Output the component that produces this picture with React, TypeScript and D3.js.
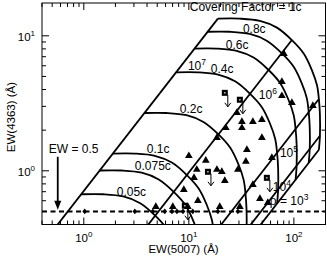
import React, { useEffect, useRef } from "react";
import * as d3 from "d3";

// c = 1 model curve (EW(5007), EW(4363)) going from n = 10^7 down to 10^3 cm^-3
const arcX = [18.9, 30.6, 47.5, 68.9, 95.7, 124, 148, 166, 173, 177, 177, 173];
const arcY = [13.4, 13.4, 12.9, 11.5, 9.3, 7.4, 5.6, 4.3, 3.4, 2.6, 1.82, 1.43];
// which arc points are the density grid lines: 10^7, 10^6, 10^5, 10^4, 10^3
const densityIdx = [0, 4, 8, 10, 11];
const coverings = [1, 0.8, 0.6, 0.4, 0.2, 0.1, 0.075, 0.05];

// measured objects (triangles)
const triX = [76.9, 80.3, 76.9, 95.7, 151.7, 28.7, 32.0, 32.0, 40.7, 49.6, 22.5, 49.6, 18.5, 35.7, 61.7, 34.9, 29.3, 40.7,
  10.0, 14.5, 11.9, 18.5, 20.6, 22.0, 11.2, 8.96, 47.5, 56.5, 4.85, 7.04, 9.78, 12.2, 19.7, 30.6];
const triY = [4.56, 7.36, 3.59, 3.19, 3.03, 2.69, 2.31, 2.08, 2.31, 2.39, 2.08, 1.76, 1.76, 1.43, 1.25, 1.17, 1.02, 0.788,
  1.29, 1.19, 1.02, 1.02, 0.983, 0.843, 0.887, 0.723, 0.62, 0.579, 0.541, 0.541, 0.541, 0.6, 0.541, 0.541];

// upper limits (squares with arrows)
const limX = [22.0, 30.6, 15.2, 55.3, 9.16];
const limY = [3.78, 3.36, 0.983, 0.887, 0.551];

// small points sitting on the EW = 0.5 line
const dotX = [1.02, 3.06, 4.54, 5.9, 6.9, 7.7, 8.8, 10.9, 18.9, 29.3];
const ewLimit = 0.5;

const xMajors = [1, 10, 100];
const yMajors = [1, 10];

export default function App() {
  const svgRef = useRef<SVGSVGElement>(null);

  useEffect(() => {
    const svg = d3.select(svgRef.current);
    svg.selectAll("*").remove();

    const W = 327, H = 256;
    const margin = { top: 3, right: 1.5, bottom: 31.5, left: 42 };
    const width = W - margin.left - margin.right;
    const height = H - margin.top - margin.bottom;
    const font = "Liberation Sans, Arial, Helvetica, sans-serif";

    const x = d3.scaleLog().domain([0.4, 200]).range([0, width]);
    const y = d3.scaleLog().domain([0.4, 17.5]).range([height, 0]);

    svg.append("defs").append("clipPath").attr("id", "plotclip")
      .append("rect").attr("width", width).attr("height", height);

    const g = svg.append("g").attr("transform", `translate(${margin.left},${margin.top})`);
    const plot = g.append("g").attr("clip-path", "url(#plotclip)");

    // covering factor arcs
    const line = d3.line<number>()
      .x((d) => x(d[0]))
      .y((d) => y(d[1]))
      .curve(d3.curveCatmullRom);
    const base = arcX.map((v, i) => [v, arcY[i]]);
    coverings.forEach((c) => {
      plot.append("path")
        .datum(base.map((p) => [p[0] * c, p[1] * c]))
        .attr("fill", "none")
        .attr("stroke", "black")
        .attr("stroke-width", 1.8)
        .attr("d", line as any);
    });

    // density lines (EW scales with covering factor)
    densityIdx.forEach((i) => {
      plot.append("line")
        .attr("x1", x(arcX[i] * 0.01)).attr("y1", y(arcY[i] * 0.01))
        .attr("x2", x(arcX[i])).attr("y2", y(arcY[i]))
        .attr("stroke", "black")
        .attr("stroke-width", 1.8);
    });

    // EW = 0.5 limit
    plot.append("line")
      .attr("x1", 0).attr("x2", width)
      .attr("y1", y(ewLimit)).attr("y2", y(ewLimit))
      .attr("stroke", "black")
      .attr("stroke-width", 2)
      .attr("stroke-dasharray", "5,3.5");

    plot.selectAll(".dot").data(dotX).enter().append("path")
      .attr("transform", (d) => `translate(${x(d)},${y(ewLimit)}) scale(1.4,1)`)
      .attr("d", d3.symbol(d3.symbolDiamond, 10)());

    plot.selectAll(".tri").data(triX).enter().append("path")
      .attr("transform", (d, i) => `translate(${x(d)},${y(triY[i])})`)
      .attr("d", d3.symbol(d3.symbolTriangle, 26)())
      .attr("fill", "black");

    limX.forEach((v, i) => {
      const cx = x(v), cy = y(limY[i]);
      plot.append("rect").attr("x", cx - 3).attr("y", cy - 3).attr("width", 6).attr("height", 6).attr("fill", "black");
      plot.append("rect").attr("x", cx - 0.7).attr("y", cy - 0.7).attr("width", 1.4).attr("height", 1.4).attr("fill", "#ddd");
      plot.append("path")
        .attr("d", `M${cx + 3},${cy + 2}V${cy + 14}M${cx},${cy + 10}L${cx + 3},${cy + 14}L${cx + 6},${cy + 10}`)
        .attr("fill", "none")
        .attr("stroke", "black")
        .attr("stroke-width", 1);
    });

    // arrow for EW = 0.5
    const ax = x(0.565);
    g.append("line").attr("x1", ax).attr("x2", ax).attr("y1", y(1.27)).attr("y2", y(0.56))
      .attr("stroke", "black").attr("stroke-width", 1.8);
    g.append("path")
      .attr("d", `M${ax - 3.5},${y(0.6)}L${ax},${y(0.515)}L${ax + 3.5},${y(0.6)}Z`)
      .attr("fill", "black");

    // text labels inside
    const labels: [string, string, number, number][] = [
      ["Covering Factor = 1c", "", 10.2, 15.2],
      ["0.8c", "", 32.7, 10.5],
      ["0.6c", "", 22.5, 8.0],
      ["10", "7", 9.8, 5.6],
      ["0.4c", "", 16.2, 5.3],
      ["10", "6", 46.4, 3.4],
      ["0.2c", "", 8.2, 2.69],
      ["0.1c", "", 3.98, 1.36],
      ["0.075c", "", 3.06, 1.02],
      ["0.05c", "", 2.06, 0.653],
      ["EW = 0.5", "", 0.464, 1.36],
      ["10", "5", 73.6, 1.27],
      ["10", "4", 63, 0.71],
      ["\u03c1 = 10", "3", 59, 0.56],
    ];
    labels.forEach(([t, s, lx, ly]) => {
      const txt = g.append("text")
        .attr("x", x(lx)).attr("y", y(ly))
        .attr("font-family", font).attr("font-size", 12)
        .text(t);
      if (s) txt.append("tspan").attr("dy", -5).attr("font-size", 8.5).text(s);
    });

    // frame and ticks
    g.append("rect").attr("width", width).attr("height", height)
      .attr("fill", "none").attr("stroke", "black").attr("stroke-width", 1);

    const logTicks = (lo: number, hi: number) => {
      const out: [number, boolean][] = [];
      for (let d = -1; d <= 2; d++) {
        for (let k = 1; k <= 9; k++) {
          const v = k * Math.pow(10, d);
          if (v >= lo * 0.999 && v <= hi * 1.001) out.push([v, k === 1]);
        }
      }
      return out;
    };
    logTicks(0.4, 200).forEach(([v, major]) => {
      const len = major ? 7 : 4;
      g.append("line").attr("x1", x(v)).attr("x2", x(v)).attr("y1", height).attr("y2", height - len).attr("stroke", "black");
      g.append("line").attr("x1", x(v)).attr("x2", x(v)).attr("y1", 0).attr("y2", len).attr("stroke", "black");
    });
    logTicks(0.4, 17.5).forEach(([v, major]) => {
      const len = major ? 7 : 4;
      g.append("line").attr("y1", y(v)).attr("y2", y(v)).attr("x1", 0).attr("x2", len).attr("stroke", "black");
      g.append("line").attr("y1", y(v)).attr("y2", y(v)).attr("x1", width).attr("x2", width - len).attr("stroke", "black");
    });

    xMajors.forEach((v) => {
      const t = g.append("text").attr("x", x(v)).attr("y", height + 17)
        .attr("text-anchor", "middle").attr("font-family", font).attr("font-size", 11.5).text("10");
      t.append("tspan").attr("dy", -5).attr("font-size", 8).text(String(Math.round(Math.log10(v))));
    });
    yMajors.forEach((v) => {
      const t = g.append("text").attr("x", -7).attr("y", y(v) + 5)
        .attr("text-anchor", "end").attr("font-family", font).attr("font-size", 11.5).text("10");
      t.append("tspan").attr("dy", -5).attr("font-size", 8).text(String(Math.round(Math.log10(v))));
    });

    g.append("text").attr("x", x(8.9)).attr("y", height + 28.5)
      .attr("text-anchor", "middle").attr("font-family", font).attr("font-size", 11.5)
      .text("EW(5007) (\u00c5)");
    g.append("text")
      .attr("transform", `translate(${-27},${y(2.5)}) rotate(-90)`)
      .attr("text-anchor", "middle").attr("font-family", font).attr("font-size", 11.5)
      .text("EW(4363) (\u00c5)");
  }, []);

  return (
    <svg ref={svgRef} width={327} height={256} style={{ position: "absolute", left: 0, top: 0, background: "white" }} />
  );
}
